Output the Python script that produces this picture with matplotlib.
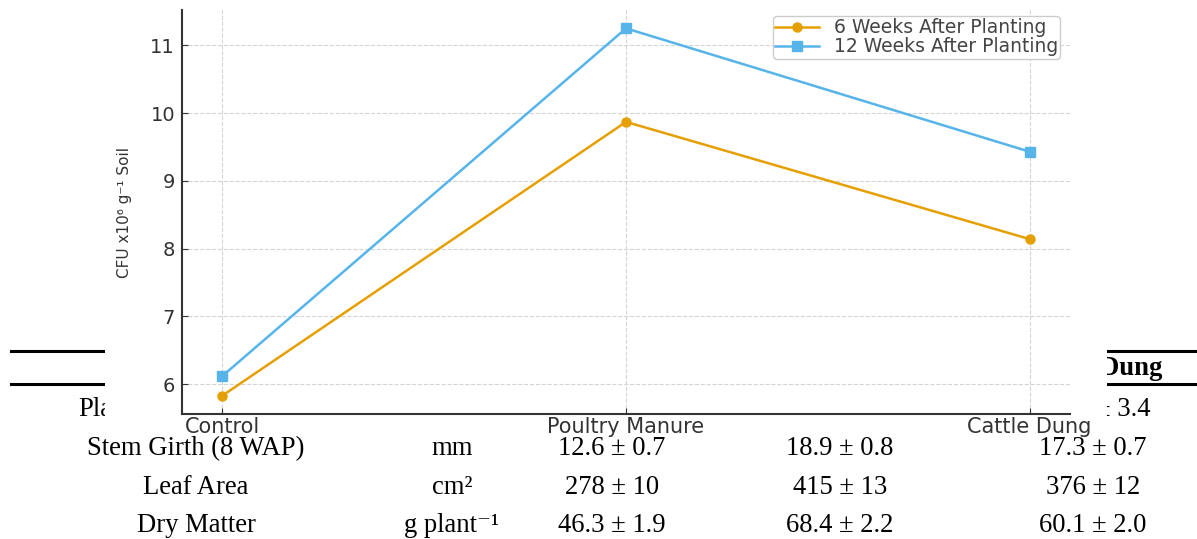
import matplotlib
matplotlib.use("Agg")
import matplotlib.pyplot as plt
from matplotlib.lines import Line2D
from matplotlib.patches import Rectangle

# --- chart data -------------------------------------------------------------
treatments = ["Control", "Poultry Manure", "Cattle Dung"]
wap6 = [5.83, 9.87, 8.14]
wap12 = [6.12, 11.25, 9.43]
series_labels = ["6 Weeks After Planting", "12 Weeks After Planting"]

# --- table underneath (only the parts not hidden by the chart) --------------
tbl_header_last = "Cattle Dung"
tbl_params = ["Plant", "Stem Girth (8 WAP)", "Leaf Area", "Dry Matter"]
tbl_units = ["", "mm", "cm\u00b2", "g plant\u207b\u00b9"]
tbl_control = ["", "12.6 \u00b1 0.7", "278 \u00b1 10", "46.3 \u00b1 1.9"]
tbl_poultry = ["", "18.9 \u00b1 0.8", "415 \u00b1 13", "68.4 \u00b1 2.2"]
tbl_cattle = ["\u00b1 3.4", "17.3 \u00b1 0.7", "376 \u00b1 12", "60.1 \u00b1 2.0"]

W, H = 1197, 539
ORANGE = "#E69F00"
BLUE = "#56B4E9"


def fx(px):
    return px / W


def fy(py):
    return 1 - py / H


fig = plt.figure(figsize=(W / 100, H / 100), dpi=100)
fig.patch.set_facecolor("white")

# table rules and text
serif = dict(family=["Liberation Serif", "DejaVu Serif"], fontsize=19.2,
             color="black", zorder=0)
for y in (351, 384):
    fig.add_artist(Line2D([fx(11), fx(W)], [fy(y), fy(y)], color="black",
                          lw=2.2, zorder=0))
col_x = [196, 452, 612, 840, 1093]
fig.text(fx(col_x[4]), fy(375), tbl_header_last, ha="center", va="baseline",
         fontweight="bold", **serif)
row_base = [416.5, 455, 493.5, 532]
for i, yb in enumerate(row_base):
    if i == 0:
        # only the start of the first row peeks out from under the chart
        fig.text(fx(78), fy(yb), tbl_params[i], ha="left", va="baseline", **serif)
        fig.text(fx(1150), fy(yb), tbl_cattle[i], ha="right", va="baseline", **serif)
        continue
    cells = [tbl_params[i], tbl_units[i], tbl_control[i], tbl_poultry[i], tbl_cattle[i]]
    for x, s in zip(col_x, cells):
        fig.text(fx(x), fy(yb), s, ha="center", va="baseline", **serif)

# white background of the pasted chart
fig.add_artist(Rectangle((fx(105), fy(436)), fx(1107) - fx(105), fy(0) - fy(436),
                         transform=fig.transFigure, facecolor="white",
                         edgecolor="none", zorder=1))

# the chart
ax = fig.add_axes([fx(182), fy(414), fx(1070) - fx(182), fy(10) - fy(414)])
ax.set_zorder(2)
x = range(len(treatments))
ax.plot(x, wap6, color=ORANGE, marker="o", ms=6.5, lw=1.8, label=series_labels[0])
ax.plot(x, wap12, color=BLUE, marker="s", ms=6.5, lw=1.8, label=series_labels[1])
ax.set_xticks(list(x))
ax.set_xticklabels(treatments, fontsize=15, color="#333333")
ax.tick_params(axis="x", direction="in", length=4, pad=2, color="#333333")
ax.tick_params(axis="y", direction="in", length=4, pad=5, labelsize=14,
               color="#333333", labelcolor="#333333")
ax.set_ylabel("CFU x10\u2076 g\u207b\u00b9 Soil", fontsize=11, color="#333333",
              labelpad=13)
ax.grid(True, ls="--", color="#d4d4d4", lw=0.8)
ax.set_axisbelow(True)
for side in ("top", "right"):
    ax.spines[side].set_visible(False)
for side in ("left", "bottom"):
    ax.spines[side].set_color("#333333")
    ax.spines[side].set_linewidth(1.5)

leg = ax.legend(loc="upper right", bbox_to_anchor=(fx(1060), fy(16)),
                bbox_transform=fig.transFigure, borderaxespad=0,
                fontsize=13.5, labelspacing=0.0, handlelength=2.3,
                borderpad=0.12, fancybox=True, framealpha=1,
                edgecolor="#cccccc")
for t in leg.get_texts():
    t.set_color("#444444")

fig.savefig("out.png", dpi=100)
